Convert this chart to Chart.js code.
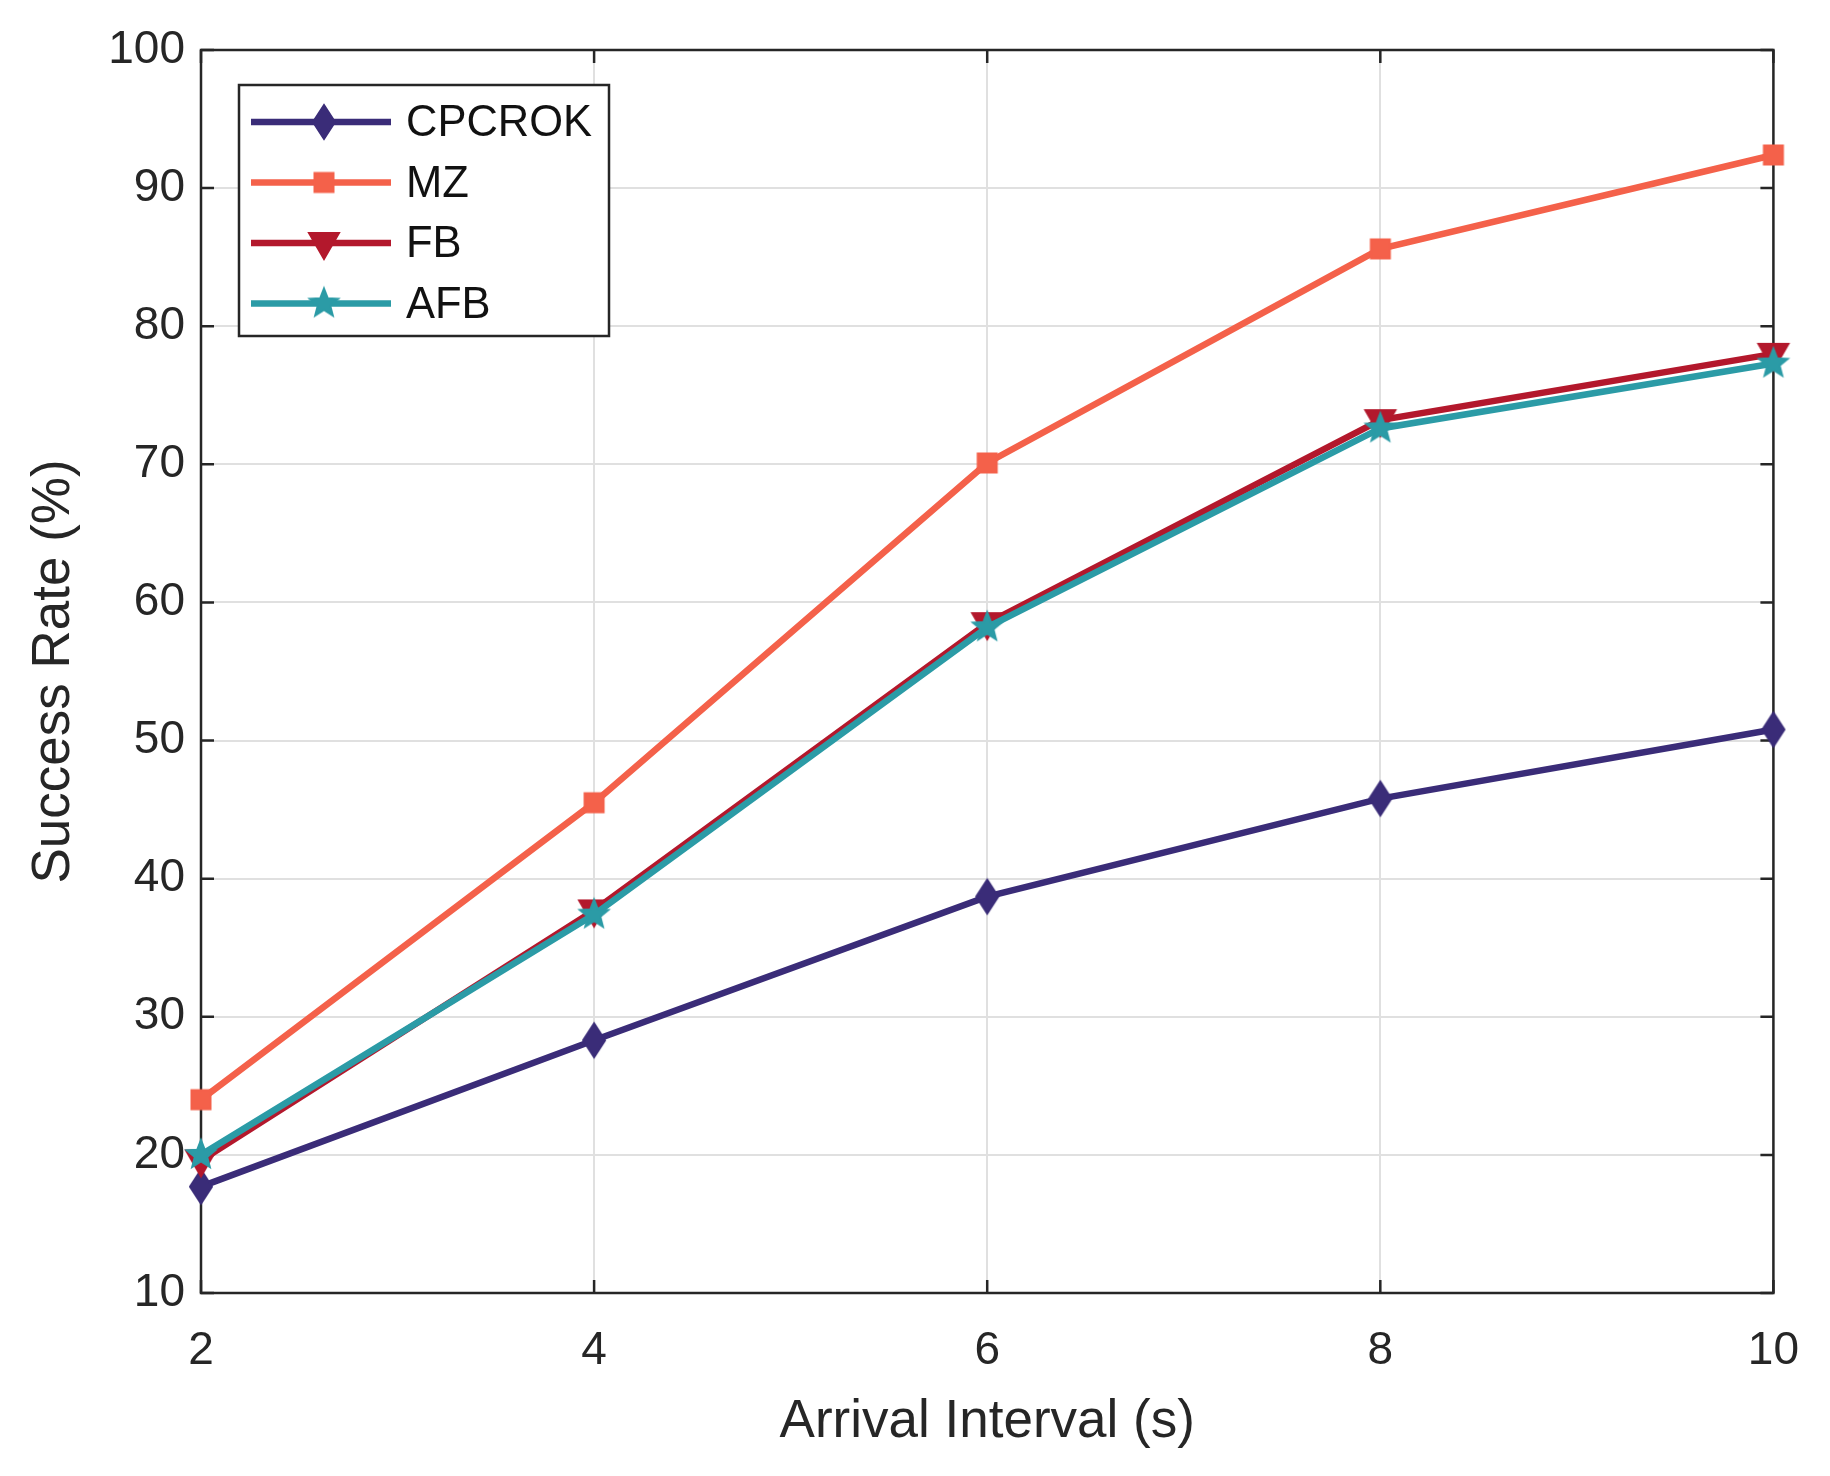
<!DOCTYPE html>
<html>
<head>
<meta charset="utf-8">
<script src="https://cdn.jsdelivr.net/npm/chart.js@4.4.1/dist/chart.umd.min.js"></script>
<style>
  html, body { margin: 0; padding: 0; background: #fff; }
  #wrap { width: 1830px; height: 1476px; }
</style>
</head>
<body>
<div id="wrap"><canvas id="successChart" width="1830" height="1476"></canvas></div>
<script>
// values
const arrivalIntervals = [2, 4, 6, 8, 10];
const cpcrokRates = [17.7, 28.3, 38.7, 45.8, 50.8];
const mzRates = [24.0, 45.5, 70.1, 85.6, 92.4];
const fbRates = [19.6, 37.7, 58.5, 73.2, 78.0];
const afbRates = [20.0, 37.4, 58.2, 72.6, 77.3];
const seriesNames = ['CPCROK', 'MZ', 'FB', 'AFB'];
const xTicks = [2, 4, 6, 8, 10];
const yTicks = [10, 20, 30, 40, 50, 60, 70, 80, 90, 100];

const FONT = "'Liberation Sans', Arial, Helvetica, sans-serif";
const TEXT_COLOR = '#262626';

function makeMarker(shape, color) {
    const c = document.createElement('canvas');
    const s = 40;
    c.width = s;
    c.height = s;
    const g = c.getContext('2d');
    const m = s / 2;
    g.fillStyle = color;
    g.strokeStyle = color;
    g.lineWidth = 2;
    g.beginPath();
    if (shape === 'diamond') {
        g.moveTo(m, m - 17);
        g.lineTo(m + 11, m);
        g.lineTo(m, m + 17);
        g.lineTo(m - 11, m);
    } else if (shape === 'square') {
        g.rect(m - 9.5, m - 9.5, 19, 19);
    } else if (shape === 'triangleDown') {
        g.moveTo(m - 15, m - 10);
        g.lineTo(m + 15, m - 10);
        g.lineTo(m, m + 16);
    } else if (shape === 'star') {
        for (let i = 0; i < 10; i++) {
            const r = i % 2 ? 6.5 : 15;
            const ang = -Math.PI / 2 + i * Math.PI / 5;
            const px = m + r * Math.cos(ang);
            const py = m + r * Math.sin(ang);
            if (i === 0) g.moveTo(px, py); else g.lineTo(px, py);
        }
    }
    g.closePath();
    g.fill();
    g.stroke();
    return c;
}

const colors = ['#3a2c78', '#f4614a', '#b3182c', '#2b9ba6'];
const markers = [
    makeMarker('diamond', colors[0]),
    makeMarker('square', colors[1]),
    makeMarker('triangleDown', colors[2]),
    makeMarker('star', colors[3])
];
const seriesValues = [cpcrokRates, mzRates, fbRates, afbRates];
// AFB sits on top of FB in the figure
const drawOrder = [3, 2, 1, 0];

const datasets = seriesNames.map((name, i) => ({
    label: name,
    data: arrivalIntervals.map((x, j) => ({ x: x, y: seriesValues[i][j] })),
    borderColor: colors[i],
    backgroundColor: colors[i],
    borderWidth: 6.5,
    pointStyle: markers[i],
    pointRadius: 10,
    tension: 0,
    clip: false,
    order: drawOrder[i]
}));

const framePlugin = {
    id: 'frame',
    beforeDatasetsDraw(chart) {
        const { ctx, chartArea: a, scales } = chart;
        ctx.save();
        ctx.strokeStyle = TEXT_COLOR;
        ctx.lineWidth = 2.5;
        ctx.strokeRect(a.left, a.top, a.right - a.left, a.bottom - a.top);
        ctx.beginPath();
        yTicks.forEach(v => {
            const py = scales.y.getPixelForValue(v);
            ctx.moveTo(a.left, py);
            ctx.lineTo(a.left + 13, py);
            ctx.moveTo(a.right, py);
            ctx.lineTo(a.right - 13, py);
        });
        xTicks.forEach(v => {
            const px = scales.x.getPixelForValue(v);
            ctx.moveTo(px, a.bottom);
            ctx.lineTo(px, a.bottom - 13);
            ctx.moveTo(px, a.top);
            ctx.lineTo(px, a.top + 13);
        });
        ctx.stroke();
        ctx.restore();
    }
};

const legendBoxPlugin = {
    id: 'legendBox',
    afterDraw(chart) {
        const { ctx, chartArea: a } = chart;
        const left = a.left + 38;
        const top = a.top + 35;
        const w = 370;
        const h = 251;
        ctx.save();
        ctx.fillStyle = '#fff';
        ctx.fillRect(left, top, w, h);
        ctx.strokeStyle = TEXT_COLOR;
        ctx.lineWidth = 2.5;
        ctx.strokeRect(left, top, w, h);
        ctx.font = '43.5px ' + FONT;
        ctx.textBaseline = 'middle';
        seriesNames.forEach((name, i) => {
            const cy = top + 37 + i * 60.5;
            ctx.strokeStyle = colors[i];
            ctx.lineWidth = 6.5;
            ctx.beginPath();
            ctx.moveTo(left + 12, cy);
            ctx.lineTo(left + 152, cy);
            ctx.stroke();
            const mk = markers[i];
            ctx.drawImage(mk, left + 85 - mk.width / 2, cy - mk.height / 2);
            ctx.fillStyle = '#111';
            ctx.fillText(name, left + 167, cy + 2);
        });
        ctx.restore();
    }
};

new Chart(document.getElementById('successChart'), {
    type: 'line',
    data: { datasets: datasets },
    options: {
        responsive: false,
        devicePixelRatio: 1,
        animation: false,
        layout: { padding: { top: 50, right: 48, left: 0, bottom: 0 } },
        plugins: {
            legend: { display: false },
            tooltip: { enabled: false }
        },
        scales: {
            x: {
                type: 'linear',
                min: 2,
                max: 10,
                afterFit(scale) { scale.height = 183; },
                afterBuildTicks(scale) { scale.ticks = xTicks.map(v => ({ value: v })); },
                grid: { color: '#e0e0e0', lineWidth: 2, drawTicks: false },
                border: { display: false },
                ticks: {
                    padding: 31,
                    color: TEXT_COLOR,
                    font: { family: FONT, size: 46 },
                    maxRotation: 0
                },
                title: {
                    display: true,
                    text: 'Arrival Interval (s)',
                    color: TEXT_COLOR,
                    font: { family: FONT, size: 53 },
                    padding: { top: 0, bottom: 22 }
                }
            },
            y: {
                type: 'linear',
                min: 10,
                max: 100,
                afterFit(scale) { scale.width = 201; },
                afterBuildTicks(scale) { scale.ticks = yTicks.map(v => ({ value: v })); },
                grid: { color: '#e0e0e0', lineWidth: 2, drawTicks: false },
                border: { display: false },
                ticks: {
                    padding: 16,
                    color: TEXT_COLOR,
                    font: { family: FONT, size: 46 }
                },
                title: {
                    display: true,
                    text: 'Success Rate (%)',
                    color: TEXT_COLOR,
                    font: { family: FONT, size: 53 },
                    padding: { top: 23, bottom: 0 }
                }
            }
        }
    },
    plugins: [framePlugin, legendBoxPlugin]
});
</script>
</body>
</html>
